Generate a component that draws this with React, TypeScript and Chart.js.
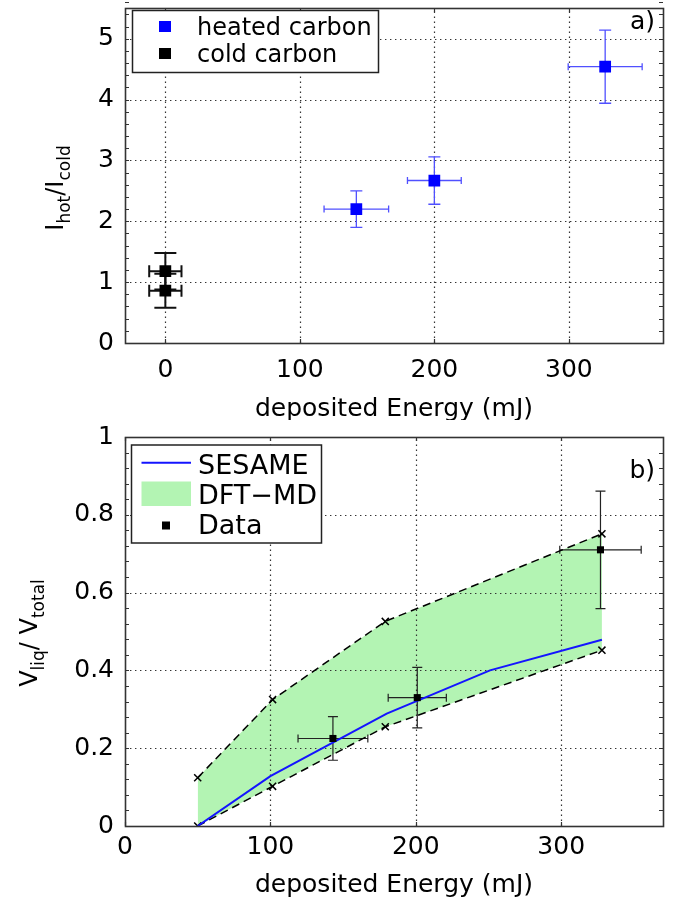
import React, { useEffect, useRef } from 'react';
import { Chart, registerables } from 'chart.js';

Chart.register(...registerables);

const FONT = "'DejaVu Sans', 'Liberation Sans', sans-serif";

// ---------- Panel a) ----------
const aXTicks = [0, 100, 200, 300];
const aYTicks = [0, 1, 2, 3, 4, 5];
const heatedX = [142, 200, 327];
const heatedY = [2.2, 2.67, 4.54];
const heatedXErr = [24, 20, 27.5];
const heatedYErr = [0.3, 0.39, 0.6];
const coldX = [0, 0];
const coldY = [1.18, 0.86];
const coldXErr = [12, 12];
const coldYErr = [0.3, 0.28];

// ---------- Panel b) ----------
const bXTicks = [0, 100, 200, 300];
const bYTicks = [0, 0.2, 0.4, 0.6, 0.8, 1];
const bYTickLabels = ['0', '0.2', '0.4', '0.6', '0.8', '1'];
const sesameX = [50, 100, 180, 251, 328];
const sesameY = [0, 0.128, 0.289, 0.4, 0.479];
const dftX = [50, 101.5, 179, 328];
const dftUpper = [0.124, 0.325, 0.526, 0.751];
const dftLower = [0, 0.102, 0.255, 0.452];
const dataX = [143, 201, 327];
const dataY = [0.225, 0.33, 0.71];
const dataXErr = [24, 20, 28];
const dataYErr = [0.056, 0.078, 0.151];

const GREEN = 'rgb(179,244,179)';
const BLUE = 'rgb(20,20,255)';

type ErrSpec = {
  xs: number[]; ys: number[]; xe: number[]; ye: number[];
  color: string; lw: number; capW: number; capH: number;
};

type PanelOpts = {
  id: string;
  xGrid: number[];
  yGrid: number[];
  yMinorStep: number;
  errors: ErrSpec[];
  decorate: (ctx: CanvasRenderingContext2D, chart: any) => void;
};

function drawRich(ctx: CanvasRenderingContext2D, parts: { t: string; sub: boolean }[], cx: number, baseX: number) {
  const mainF = `24px ${FONT}`;
  const subF = `17px ${FONT}`;
  let total = 0;
  for (const p of parts) {
    ctx.font = p.sub ? subF : mainF;
    total += ctx.measureText(p.t).width;
  }
  ctx.save();
  ctx.translate(baseX, cx);
  ctx.rotate(-Math.PI / 2);
  ctx.fillStyle = '#000';
  ctx.textBaseline = 'alphabetic';
  ctx.textAlign = 'left';
  let x = -total / 2;
  for (const p of parts) {
    ctx.font = p.sub ? subF : mainF;
    ctx.fillText(p.t, x, p.sub ? 7 : 0);
    x += ctx.measureText(p.t).width;
  }
  ctx.restore();
}

function panelPlugin(o: PanelOpts) {
  return {
    id: o.id,
    beforeDatasetsDraw(chart: any) {
      const { ctx, chartArea: a, scales } = chart;
      const xs = scales.x, ys = scales.y;
      ctx.save();
      ctx.strokeStyle = '#333';
      ctx.lineWidth = 1.2;
      ctx.setLineDash([1.4, 3.6]);
      for (const v of o.xGrid) {
        const px = Math.round(xs.getPixelForValue(v)) + 0.5;
        if (px <= a.left + 1 || px >= a.right - 1) continue;
        ctx.beginPath(); ctx.moveTo(px, a.bottom); ctx.lineTo(px, a.top); ctx.stroke();
      }
      for (const v of o.yGrid) {
        const py = Math.round(ys.getPixelForValue(v)) + 0.5;
        if (py <= a.top + 1 || py >= a.bottom - 1) continue;
        ctx.beginPath(); ctx.moveTo(a.left, py); ctx.lineTo(a.right, py); ctx.stroke();
      }
      ctx.setLineDash([]);
      for (const e of o.errors) {
        ctx.strokeStyle = e.color;
        ctx.lineWidth = e.lw;
        for (let i = 0; i < e.xs.length; i++) {
          const cx = xs.getPixelForValue(e.xs[i]);
          const cy = ys.getPixelForValue(e.ys[i]);
          const x0 = xs.getPixelForValue(e.xs[i] - e.xe[i]);
          const x1 = xs.getPixelForValue(e.xs[i] + e.xe[i]);
          const y0 = ys.getPixelForValue(e.ys[i] - e.ye[i]);
          const y1 = ys.getPixelForValue(e.ys[i] + e.ye[i]);
          ctx.beginPath();
          ctx.moveTo(x0, cy); ctx.lineTo(x1, cy);
          ctx.moveTo(x0, cy - e.capH / 2); ctx.lineTo(x0, cy + e.capH / 2);
          ctx.moveTo(x1, cy - e.capH / 2); ctx.lineTo(x1, cy + e.capH / 2);
          ctx.moveTo(cx, y0); ctx.lineTo(cx, y1);
          ctx.moveTo(cx - e.capW / 2, y0); ctx.lineTo(cx + e.capW / 2, y0);
          ctx.moveTo(cx - e.capW / 2, y1); ctx.lineTo(cx + e.capW / 2, y1);
          ctx.stroke();
        }
      }
      ctx.restore();
    },
    afterDraw(chart: any) {
      const { ctx, chartArea: a, scales } = chart;
      const xs = scales.x, ys = scales.y;
      ctx.save();
      ctx.strokeStyle = '#333';
      ctx.lineWidth = 1.2;
      const TL = 4;
      ctx.beginPath();
      for (const v of o.xGrid) {
        const px = Math.round(xs.getPixelForValue(v)) + 0.5;
        ctx.moveTo(px, a.bottom); ctx.lineTo(px, a.bottom - TL);
        ctx.moveTo(px, a.top); ctx.lineTo(px, a.top + TL);
      }
      const ymin = ys.min, ymax = ys.max;
      const n = Math.round((ymax - ymin) / o.yMinorStep);
      for (let i = 0; i <= n; i++) {
        const v = ymin + i * o.yMinorStep;
        const py = Math.round(ys.getPixelForValue(v)) + 0.5;
        ctx.moveTo(a.left, py); ctx.lineTo(a.left + TL, py);
        ctx.moveTo(a.right, py); ctx.lineTo(a.right - TL, py);
      }
      ctx.stroke();
      ctx.lineWidth = 1.6;
      ctx.strokeRect(Math.round(a.left) + 0.5, Math.round(a.top) + 0.5, Math.round(a.right - a.left), Math.round(a.bottom - a.top));
      ctx.restore();
      ctx.save();
      o.decorate(ctx, chart);
      ctx.restore();
    },
  };
}

function tickFont() {
  return { family: FONT, size: 25 };
}

function makeScales(xmin: number, xmax: number, xticks: number[], ymin: number, ymax: number, yticks: number[], ylabels: string[] | null, xh: number, xpad: number) {
  return {
    x: {
      type: 'linear',
      min: xmin, max: xmax,
      afterBuildTicks: (s: any) => { s.ticks = xticks.map((v) => ({ value: v })); },
      afterFit: (s: any) => { s.height = xh; s.paddingLeft = 0; s.paddingRight = 0; s.paddingTop = 0; s.paddingBottom = 0; },
      grid: { display: false, drawTicks: false },
      border: { display: false },
      ticks: { font: tickFont(), color: '#000', padding: xpad, maxRotation: 0, autoSkip: false, callback: (v: any) => String(v) },
    },
    y: {
      type: 'linear',
      min: ymin, max: ymax,
      afterBuildTicks: (s: any) => { s.ticks = yticks.map((v) => ({ value: v })); },
      afterFit: (s: any) => { s.width = 125; s.paddingTop = 0; s.paddingBottom = 0; s.paddingLeft = 0; s.paddingRight = 0; },
      grid: { display: false, drawTicks: false },
      border: { display: false },
      ticks: {
        font: tickFont(), color: '#000', padding: 11, autoSkip: false,
        callback: (v: any, i: number) => (ylabels ? ylabels[i] : String(v)),
      },
    },
  };
}

export default function App() {
  const topRef = useRef<HTMLCanvasElement>(null);
  const botRef = useRef<HTMLCanvasElement>(null);

  useEffect(() => {
    const charts: Chart[] = [];

    const topDecor = (ctx: CanvasRenderingContext2D, chart: any) => {
      const a = chart.chartArea;
      ctx.fillStyle = '#000';
      ctx.font = `25px ${FONT}`;
      ctx.textAlign = 'center';
      ctx.textBaseline = 'alphabetic';
      ctx.fillText('deposited Energy (mJ)', (a.left + a.right) / 2, 416);
      drawRich(ctx, [
        { t: 'I', sub: false }, { t: 'hot', sub: true }, { t: '/', sub: false }, { t: 'I', sub: false }, { t: 'cold', sub: true },
      ], 188, 63);
      ctx.font = `25px ${FONT}`;
      ctx.textAlign = 'right';
      ctx.fillText('a)', 655, 29);
      // legend
      ctx.fillStyle = '#fff';
      ctx.fillRect(132.5, 10.5, 246, 62);
      ctx.strokeStyle = '#222';
      ctx.lineWidth = 1.5;
      ctx.strokeRect(132.5, 10.5, 246, 62);
      ctx.fillStyle = '#0000ff';
      ctx.fillRect(159, 21, 12, 11);
      ctx.fillStyle = '#000';
      ctx.fillRect(159, 48, 12, 11);
      ctx.font = `24px ${FONT}`;
      ctx.textAlign = 'left';
      ctx.fillText('heated carbon', 197, 35);
      ctx.fillText('cold carbon', 197, 62);
    };

    const top = new Chart(topRef.current as HTMLCanvasElement, {
      type: 'scatter',
      data: {
        datasets: [
          {
            label: 'heated carbon',
            data: heatedX.map((x, i) => ({ x, y: heatedY[i] })),
            pointStyle: 'rect', pointRadius: 8.3, backgroundColor: '#0000ff', borderColor: '#0000ff', borderWidth: 0,
          },
          {
            label: 'cold carbon',
            data: coldX.map((x, i) => ({ x, y: coldY[i] })),
            pointStyle: 'rect', pointRadius: 8.3, backgroundColor: '#000', borderColor: '#000', borderWidth: 0,
          },
        ],
      } as any,
      options: {
        animation: false,
        responsive: false,
        devicePixelRatio: 1,
        events: [],
        layout: { padding: { top: 4, right: 19, left: 0, bottom: 0 } },
        plugins: { legend: { display: false }, tooltip: { enabled: false } },
        scales: makeScales(-30, 370, aXTicks, 0, 5.5, aYTicks, null, 77, 12) as any,
      },
      plugins: [panelPlugin({
        id: 'panelA',
        xGrid: aXTicks,
        yGrid: aYTicks,
        yMinorStep: 0.2,
        errors: [
          { xs: heatedX, ys: heatedY, xe: heatedXErr, ye: heatedYErr, color: 'rgb(80,80,255)', lw: 1.3, capW: 12, capH: 7 },
          { xs: coldX, ys: coldY, xe: coldXErr, ye: coldYErr, color: '#111', lw: 2, capW: 22, capH: 12 },
        ],
        decorate: topDecor,
      })],
    });
    charts.push(top);

    const botDecor = (ctx: CanvasRenderingContext2D, chart: any) => {
      const a = chart.chartArea;
      ctx.fillStyle = '#000';
      ctx.font = `25px ${FONT}`;
      ctx.textAlign = 'center';
      ctx.textBaseline = 'alphabetic';
      ctx.fillText('deposited Energy (mJ)', (a.left + a.right) / 2, 472);
      drawRich(ctx, [
        { t: 'V', sub: false }, { t: 'liq', sub: true }, { t: '/ ', sub: false }, { t: 'V', sub: false }, { t: 'total', sub: true },
      ], 213, 37);
      ctx.font = `25px ${FONT}`;
      ctx.textAlign = 'right';
      ctx.fillText('b)', 655, 58);
      // legend
      ctx.fillStyle = '#fff';
      ctx.fillRect(131.5, 25, 190, 98);
      ctx.strokeStyle = '#222';
      ctx.lineWidth = 1.5;
      ctx.strokeRect(131.5, 25, 190, 98);
      ctx.strokeStyle = BLUE;
      ctx.lineWidth = 2;
      ctx.beginPath(); ctx.moveTo(141.5, 42.7); ctx.lineTo(191, 42.7); ctx.stroke();
      ctx.fillStyle = GREEN;
      ctx.fillRect(141.5, 61.5, 49.5, 24.5);
      ctx.fillStyle = '#000';
      ctx.fillRect(162, 101.5, 8, 8);
      ctx.font = `27px ${FONT}`;
      ctx.textAlign = 'left';
      ctx.fillText('SESAME', 198, 53.5);
      ctx.fillText('DFT\u2212MD', 198, 84);
      ctx.fillText('Data', 198, 114);
    };

    const bot = new Chart(botRef.current as HTMLCanvasElement, {
      type: 'scatter',
      data: {
        datasets: [
          {
            label: 'Data',
            data: dataX.map((x, i) => ({ x, y: dataY[i] })),
            pointStyle: 'rect', pointRadius: 5, backgroundColor: '#000', borderColor: '#000', borderWidth: 0,
          },
          {
            label: 'SESAME',
            data: sesameX.map((x, i) => ({ x, y: sesameY[i] })),
            showLine: true, borderColor: BLUE, borderWidth: 2, pointRadius: 0, fill: false,
          },
          {
            label: 'DFT-MD upper',
            data: dftX.map((x, i) => ({ x, y: dftUpper[i] })),
            showLine: true, borderColor: '#000', borderWidth: 1.5, borderDash: [8, 5],
            pointStyle: 'crossRot', pointRadius: 5, pointBorderColor: '#000', pointBorderWidth: 1.5,
            fill: '+1', backgroundColor: GREEN,
          },
          {
            label: 'DFT-MD lower',
            data: dftX.map((x, i) => ({ x, y: dftLower[i] })),
            showLine: true, borderColor: '#000', borderWidth: 1.5, borderDash: [8, 5],
            pointStyle: 'crossRot', pointRadius: 5, pointBorderColor: '#000', pointBorderWidth: 1.5,
            fill: false,
          },
        ],
      } as any,
      options: {
        animation: false,
        responsive: false,
        devicePixelRatio: 1,
        events: [],
        layout: { padding: { top: 17, right: 19, left: 0, bottom: 0 } },
        plugins: { legend: { display: false }, tooltip: { enabled: false }, filler: { drawTime: 'beforeDatasetsDraw' } } as any,
        scales: makeScales(0, 370, bXTicks, 0, 1, bYTicks, bYTickLabels, 77, 6) as any,
      },
      plugins: [panelPlugin({
        id: 'panelB',
        xGrid: bXTicks,
        yGrid: bYTicks,
        yMinorStep: 0.04,
        errors: [
          { xs: dataX, ys: dataY, xe: dataXErr, ye: dataYErr, color: '#222', lw: 1.2, capW: 10, capH: 8 },
        ],
        decorate: botDecor,
      })],
    });
    charts.push(bot);

    return () => { charts.forEach((c) => c.destroy()); };
  }, []);

  return (
    <div style={{ position: 'absolute', left: 0, top: 0, width: 682, height: 903, background: '#fff', overflow: 'hidden' }}>
      <canvas ref={topRef} width={682} height={420} style={{ position: 'absolute', left: 0, top: 0, width: 682, height: 420 }} />
      <canvas ref={botRef} width={682} height={483} style={{ position: 'absolute', left: 0, top: 420, width: 682, height: 483 }} />
    </div>
  );
}
